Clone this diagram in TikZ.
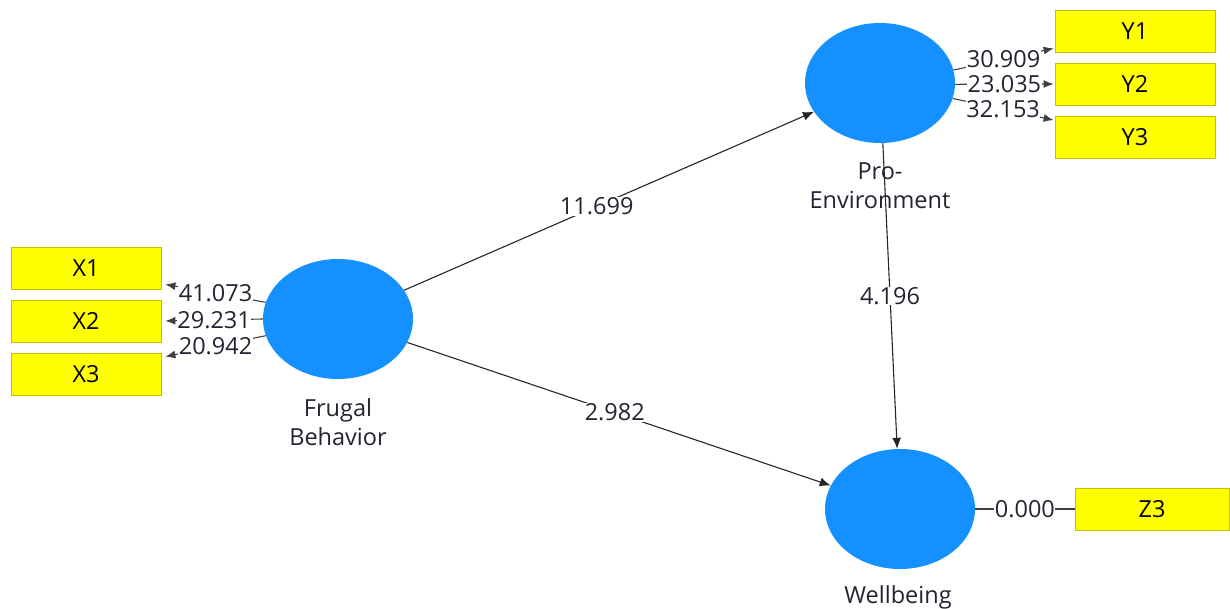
\documentclass[tikz,border=0pt]{standalone}
\usepackage{fontspec}
\setmainfont{Open Sans}
\usetikzlibrary{shapes.geometric,arrows.meta,positioning}
\definecolor{lvblue}{RGB}{20,144,255}
\definecolor{mvyellow}{RGB}{255,255,0}
\definecolor{mvborder}{RGB}{200,190,0}
\definecolor{txt}{RGB}{35,35,50}
\tikzset{
  lv/.style={ellipse,fill=lvblue,draw=none,minimum width=150pt,minimum height=120pt,inner sep=0pt},
  mv/.style={rectangle,fill=mvyellow,draw=mvborder,line width=0.8pt,minimum width=150pt,minimum height=42pt,inner sep=0pt,font=\fontsize{23.5}{26}\selectfont,text=black},
  lvlab/.style={font=\fontsize{23.5}{29}\selectfont,text=txt,align=center},
  num/.style={fill=white,inner sep=0.5pt,font=\fontsize{23.5}{26}\selectfont,text=txt},
  path/.style={draw=black!85,line width=1.1pt,-{Latex[length=11pt,width=9pt]}},
  load/.style={draw=black!75,line width=1.1pt,-{Latex[length=10pt,width=8pt]}},
}
\begin{document}
\begin{tikzpicture}[x=1pt,y=-1pt]
\useasboundingbox (0,0) rectangle (1230,608);
% latent variables
\node[lv] (fb) at (338,319) {};
\node[lv] (pe) at (880,83) {};
\node[lv] (wb) at (900,509) {};
% indicators
\node[mv] (x1) at (86,268) {X1};
\node[mv] (x2) at (86,321) {X2};
\node[mv] (x3) at (86,374) {X3};
\node[mv,minimum width=160pt] (y1) at (1135,31) {Y1};
\node[mv,minimum width=160pt] (y2) at (1135,84) {Y2};
\node[mv,minimum width=160pt] (y3) at (1135,137.5) {Y3};
\node[mv,minimum width=154pt] (z3) at (1152,509) {Z3};
% structural paths
\draw[path] (fb) -- node[num,pos=0.47] {11.699} (pe);
\draw[path] (fb) -- node[num,pos=0.49] {2.982} (wb);
\draw[path] (pe) -- node[num,pos=0.5] {4.196} (wb);
% labels of latent variables
\node[lvlab] (pelab) at (880,186) {Pro-\\Environment};
\node[lvlab] (fblab) at (338,422) {Frugal\\Behavior};
\node[lvlab] (wblab) at (898,597) {Wellbeing};
% outer loadings
\draw[load] (fb.167.6) -- node[num] {41.073} ([shift={(4,-5)}]x1.south east);
\draw[load] (fb.180) -- node[num] {29.231} ([shift={(4,0)}]x2.east);
\draw[load] (fb.193.9) -- node[num] {20.942} ([shift={(4,4)}]x3.north east);
\draw[load] (pe.10) -- node[num] {30.909} ([shift={(-1,-4)}]y1.south west);
\draw[load] (pe.-1) -- node[num] {23.035} ([shift={(-1,0)}]y2.west);
\draw[load] (pe.-12) -- node[num] {32.153} ([shift={(-1,4)}]y3.north west);
\draw[draw=black!75,line width=1.1pt] (wb.east) -- node[num] {0.000} (z3.west);
\end{tikzpicture}
\end{document}
